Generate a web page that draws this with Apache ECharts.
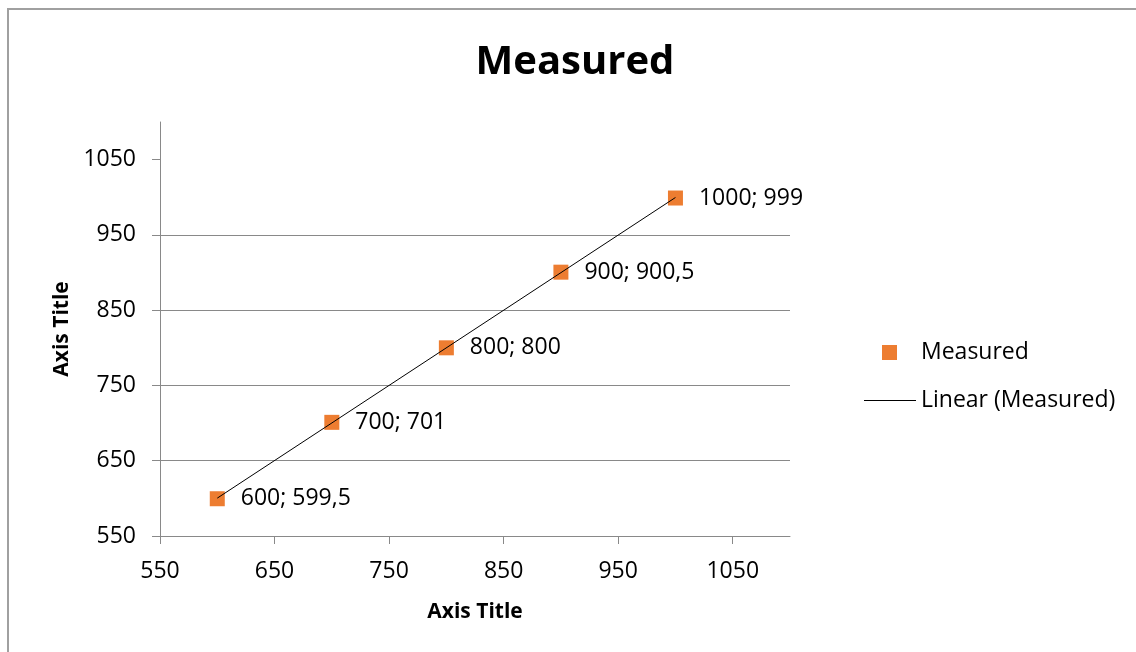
<!DOCTYPE html>
<html>
<head>
<meta charset="utf-8">
<script src="https://cdn.jsdelivr.net/npm/echarts@6/dist/echarts.min.js"></script>
<style>
  html, body { margin: 0; padding: 0; background: #fff; }
  #chart { width: 1136px; height: 652px; }
</style>
</head>
<body>
<div id="chart"></div>
<script>
// Measured values (x = set point, y = measured)
const setPoints = [600, 700, 800, 900, 1000];
const measured = [599.5, 701, 800, 900.5, 999];
// Tick labels shown on both axes
const xTicks = [550, 650, 750, 850, 950, 1050];
const yTicks = [550, 650, 750, 850, 950, 1050];

const points = setPoints.map((x, i) => [x, measured[i]]);

// Least-squares trendline through the measured points
const n = setPoints.length;
const mx = setPoints.reduce((a, b) => a + b, 0) / n;
const my = measured.reduce((a, b) => a + b, 0) / n;
let sxy = 0, sxx = 0;
for (let i = 0; i < n; i++) {
  sxy += (setPoints[i] - mx) * (measured[i] - my);
  sxx += (setPoints[i] - mx) * (setPoints[i] - mx);
}
const slope = sxy / sxx;
const intercept = my - slope * mx;
const xFirst = setPoints[0], xLast = setPoints[n - 1];
const trend = [[xFirst, intercept + slope * xFirst], [xLast, intercept + slope * xLast]];

const FONT = '"Open Sans", "Noto Sans", sans-serif';
const AXIS_GRAY = '#898989';
const plain = v => String(v);

const chart = echarts.init(document.getElementById('chart'), null, { renderer: 'canvas' });
chart.setOption({
  backgroundColor: '#fff',
  animation: false,
  textStyle: { fontFamily: FONT, color: '#000' },
  graphic: [{
    type: 'rect',
    shape: { x: 8, y: 9, width: 1140, height: 660 },
    style: { fill: 'none', stroke: '#a0a0a0', lineWidth: 2 },
    silent: true
  }],
  title: {
    text: 'Measured',
    left: 570,
    textAlign: 'center',
    top: 38,
    textStyle: { fontFamily: FONT, fontWeight: 'bold', fontSize: 40, color: '#000' }
  },
  legend: [{
    data: [{ name: 'Measured', icon: 'rect', itemStyle: { color: '#ED7D31', opacity: 1 } }],
    left: 877,
    top: 336,
    itemWidth: 15,
    itemHeight: 15,
    textStyle: { fontFamily: FONT, fontSize: 23, color: '#000', padding: [0, 0, 0, 19] }
  }, {
    data: [{ name: 'Linear (Measured)', icon: 'rect', itemStyle: { color: '#000' } }],
    left: 859,
    top: 384,
    itemWidth: 52,
    itemHeight: 1,
    textStyle: { fontFamily: FONT, fontSize: 23, color: '#000' }
  }],
  grid: { left: 160, right: 346, top: 122, bottom: 116, containLabel: false },
  xAxis: {
    type: 'value',
    min: 550, max: 1100, interval: 100,
    name: 'Axis Title',
    nameLocation: 'middle',
    nameGap: 66,
    nameTextStyle: { fontFamily: FONT, fontWeight: 'bold', fontSize: 21, color: '#000' },
    axisLine: { show: true, onZero: false, lineStyle: { color: AXIS_GRAY, width: 1 } },
    axisTick: { show: true, length: 8, customValues: xTicks, lineStyle: { color: AXIS_GRAY } },
    axisLabel: { customValues: xTicks, formatter: plain, margin: 24, fontFamily: FONT, fontSize: 23, color: '#000' },
    splitLine: { show: false }
  },
  yAxis: {
    type: 'value',
    min: 550, max: 1100, interval: 100,
    name: 'Axis Title',
    nameLocation: 'middle',
    nameGap: 87,
    nameRotate: 90,
    nameTextStyle: { fontFamily: FONT, fontWeight: 'bold', fontSize: 21, color: '#000' },
    axisLine: { show: true, onZero: false, lineStyle: { color: AXIS_GRAY, width: 1 } },
    axisTick: { show: true, length: 8, customValues: yTicks, lineStyle: { color: AXIS_GRAY } },
    axisLabel: { customValues: yTicks, formatter: plain, margin: 24, fontFamily: FONT, fontSize: 23, color: '#000' },
    splitLine: { show: true, showMaxLine: false, lineStyle: { color: AXIS_GRAY, width: 1 } }
  },
  series: [{
    name: 'Measured',
    type: 'scatter',
    data: points,
    symbol: 'rect',
    symbolSize: 15,
    itemStyle: { color: '#ED7D31', opacity: 1 },
    label: {
      show: true,
      position: 'right',
      distance: 16,
      fontFamily: FONT,
      fontSize: 23,
      color: '#000',
      formatter: p => p.value[0] + '; ' + String(p.value[1]).replace('.', ',')
    }
  }, {
    name: 'Linear (Measured)',
    type: 'line',
    data: trend,
    symbol: 'none',
    showSymbol: false,
    lineStyle: { color: '#000', width: 1 },
    itemStyle: { color: '#000' }
  }]
});
</script>
</body>
</html>
